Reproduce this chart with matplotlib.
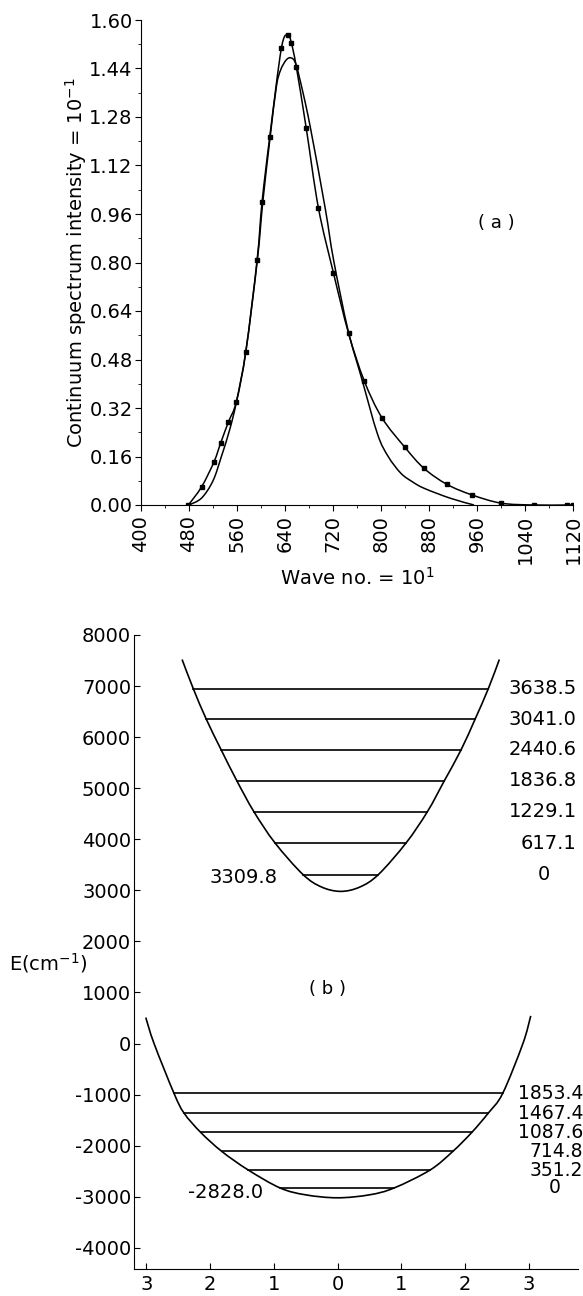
import matplotlib
matplotlib.use("Agg")
import numpy as np
import matplotlib.pyplot as plt
from matplotlib.path import Path
from matplotlib.patches import PathPatch
from matplotlib.ticker import MultipleLocator, FuncFormatter

plt.rcParams['font.family'] = ['DejaVu Sans']
plt.rcParams['axes.unicode_minus'] = False

# (a) continuum spectrum, series with square markers
wave_pts = [479, 501, 521.6, 532.7, 545.5, 559, 574.7, 593.5, 601.8, 614.5, 634, 645,
            650.5, 658.8, 675.4, 695.8, 720.7, 746, 772, 801.5, 840, 871.6, 910, 952,
            1000.5, 1055, 1110, 1120]
inten_pts = [0.0, 0.06, 0.142, 0.204, 0.273, 0.341, 0.506, 0.808, 1.0, 1.213, 1.507, 1.551,
             1.525, 1.446, 1.243, 0.979, 0.766, 0.566, 0.41, 0.288, 0.19, 0.121, 0.068, 0.033,
             0.006, 0.0, 0.0, 0.0]

# (a) smooth curve without markers
wave_fit = [480, 501, 520, 534, 548, 559, 575, 594, 603, 615, 625.6, 632.7, 642, 650, 658,
            670, 682.5, 707, 721, 745, 767, 794, 812, 833, 852, 872, 916, 955]
inten_fit = [0.0, 0.023, 0.08, 0.16, 0.25, 0.34, 0.51, 0.81, 1.0, 1.21, 1.38, 1.435, 1.468,
             1.475, 1.455, 1.36, 1.243, 0.979, 0.808, 0.577, 0.423, 0.235, 0.16, 0.105, 0.077,
             0.055, 0.022, 0.0]

# (b) upper potential well
up_x = [-2.44, -2.264, -2.06, -1.826, -1.581, -1.312, -0.98, -0.542, -0.25, 0.05,
        0.35, 0.642, 1.075, 1.41, 1.677, 1.939, 2.159, 2.367, 2.54]
up_E = [7520, 6948.3, 6350.8, 5750.4, 5146.6, 4538.9, 3926.9, 3309.8, 3065, 2980,
        3065, 3309.8, 3926.9, 4538.9, 5146.6, 5750.4, 6350.8, 6948.3, 7520]
up_base = 3309.8
up_levels = [0, 617.1, 1229.1, 1836.8, 2440.6, 3041.0, 3638.5]
up_left = [-0.542, -0.98, -1.312, -1.581, -1.826, -2.06, -2.264]
up_right = [0.642, 1.075, 1.41, 1.677, 1.939, 2.159, 2.367]

# (b) lower potential well
lo_x = [-3.01, -2.88, -2.567, -2.41, -2.147, -1.815, -1.40, -0.90, -0.5, 0.0,
        0.5, 0.887, 1.452, 1.808, 2.107, 2.367, 2.593, 2.91, 3.033]
lo_E = [509, 0, -974.6, -1360.6, -1740.4, -2113.2, -2476.8, -2828.0, -2962, -3020,
        -2962, -2828.0, -2476.8, -2113.2, -1740.4, -1360.6, -974.6, 0, 542]
lo_base = -2828.0
lo_levels = [0, 351.2, 714.8, 1087.6, 1467.4, 1853.4]
lo_left = [-0.90, -1.40, -1.815, -2.147, -2.41, -2.567]
lo_right = [0.887, 1.452, 1.808, 2.107, 2.367, 2.593]


# draw a smooth pen line through the read points (bezier segments)
def smooth_line(ax, xs, ys, lw=1.1):
    p = np.column_stack([xs, ys]).astype(float)
    ext = np.vstack([p[0], p, p[-1]])
    verts = [p[0]]
    codes = [Path.MOVETO]
    for i in range(1, len(ext) - 2):
        c1 = ext[i] + (ext[i + 1] - ext[i - 1]) / 6
        c2 = ext[i + 1] - (ext[i + 2] - ext[i]) / 6
        verts += [c1, c2, ext[i + 1]]
        codes += [Path.CURVE4] * 3
    ax.add_patch(PathPatch(Path(verts, codes), fill=False, edgecolor='black', lw=lw))


W, H = 583, 1296
fig = plt.figure(figsize=(W / 100, H / 100), dpi=100)
fs = 14

# ---- panel (a)
ax1 = fig.add_axes([141 / W, 1 - 505 / H, 432 / W, 485 / H])
smooth_line(ax1, wave_fit, inten_fit)
smooth_line(ax1, wave_pts, inten_pts)
ax1.plot(wave_pts, inten_pts, ls='none', color='black', marker='s', ms=3.2)
ax1.set_xlim(400, 1120)
ax1.set_ylim(0, 1.60)
ax1.xaxis.set_major_locator(MultipleLocator(80))
ax1.xaxis.set_minor_locator(MultipleLocator(40))
ax1.yaxis.set_major_locator(MultipleLocator(0.16))
ax1.yaxis.set_minor_locator(MultipleLocator(0.08))
ax1.yaxis.set_major_formatter(FuncFormatter(lambda v, p: f"{v:.2f}"))
ax1.tick_params(axis='x', labelrotation=90, labelsize=fs, direction='out', length=4, pad=3)
ax1.tick_params(axis='y', labelsize=fs, direction='out', length=4, pad=2)
ax1.tick_params(which='minor', direction='out', length=2.5)
for s in ['top', 'right']:
    ax1.spines[s].set_visible(False)
ax1.set_xlabel("Wave no. = 10$^1$", fontsize=fs, labelpad=2)
ax1.set_ylabel("Continuum spectrum intensity = 10$^{-1}$", fontsize=fs, labelpad=0)
ax1.text(993, 0.93, "( a )", fontsize=fs - 1, ha='center', va='center')

# ---- panel (b)
ax2 = fig.add_axes([134 / W, 1 - 1269.3 / H, 444 / W, 634.3 / H])
smooth_line(ax2, up_x, up_E, lw=1.2)
smooth_line(ax2, lo_x, lo_E, lw=1.2)
for off, xl, xr in zip(up_levels, up_left, up_right):
    e = up_base + off
    ax2.plot([xl, xr], [e, e], color='black', lw=1.2)
    lab = "0" if off == 0 else f"{off:.1f}"
    ax2.text(3.336 if off == 0 else 3.755, e, lab, fontsize=fs, ha='right', va='center')
for off, xl, xr in zip(lo_levels, lo_left, lo_right):
    e = lo_base + off
    ax2.plot([xl, xr], [e, e], color='black', lw=1.2)
    lab = "0" if off == 0 else f"{off:.1f}"
    ax2.text(3.50 if off == 0 else 3.86, e, lab, fontsize=fs - 0.5, ha='right', va='center')
ax2.text(-0.95, up_base - 60, f"{up_base:.1f}", fontsize=fs, ha='right', va='center')
ax2.text(-1.165, lo_base - 85, f"{lo_base:.1f}", fontsize=fs, ha='right', va='center')
ax2.text(-0.16, 1065, "( b )", fontsize=fs - 1, ha='center', va='center')

ax2.set_xlim(-3.195, 3.775)
ax2.set_ylim(-4420, 8000)
ax2.set_xticks([-3, -2, -1, 0, 1, 2, 3])
ax2.xaxis.set_major_formatter(FuncFormatter(lambda v, p: f"{abs(int(round(v)))}"))
ax2.yaxis.set_major_locator(MultipleLocator(1000))
ax2.yaxis.set_major_formatter(FuncFormatter(lambda v, p: f"{int(v)}"))
ax2.tick_params(axis='both', labelsize=fs, direction='in', length=4)
ax2.tick_params(axis='x', pad=4)
ax2.tick_params(axis='y', pad=2)
for s in ['top', 'right']:
    ax2.spines[s].set_visible(False)
fig.text(9 / W, 1 - 963 / H, "E(cm$^{-1}$)", fontsize=fs, ha='left', va='center')

fig.savefig("out.png", dpi=100)
